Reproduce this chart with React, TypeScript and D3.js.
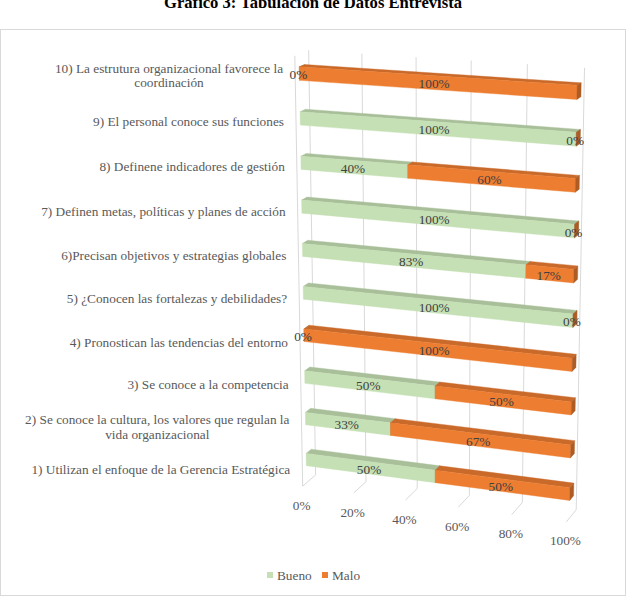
import React, { useEffect, useRef } from 'react';
import * as d3 from 'd3';

const title = 'Gráfico 3: Tabulación de Datos Entrevista';

// bottom to top, as the category axis runs
const categories = [
  '1) Utilizan el enfoque de la Gerencia Estratégica',
  '2) Se conoce la cultura, los valores que regulan la\nvida organizacional',
  '3) Se conoce a la competencia',
  '4) Pronostican las tendencias del entorno',
  '5) ¿Conocen las fortalezas y debilidades?',
  '6)Precisan objetivos y estrategias globales',
  '7) Definen metas, políticas y planes de acción',
  '8) Definene indicadores de gestión',
  '9) El personal conoce sus funciones',
  '10) La estrutura organizacional favorece la\ncoordinación',
];
const bueno = [50, 33, 50, 0, 100, 83, 100, 40, 100, 0];
const malo = [50, 67, 50, 100, 0, 17, 0, 60, 0, 100];
const seriesNames = ['Bueno', 'Malo'];
const seriesColors = ['#c5e0b4', '#ed7d31'];
const valueTicks = [0, 0.2, 0.4, 0.6, 0.8, 1];

const width = 627;
const height = 596;
const font = '"Liberation Serif", "Times New Roman", serif';
const fs = 13.3;

// 3D box in world units: X = value, Y = height, Z = depth (away from viewer)
const W = 1;
const H = 1.58;
const D = 0.12;
const rotX = (16 * Math.PI) / 180;
const rotY = (20 * Math.PI) / 180;
const dist = 7.6;
const focal = 2180;
const originX = 437.5;
const originY = 286;

type P3 = [number, number, number];

function project([X, Y, Z]: P3): [number, number] {
  const x = X - W / 2, y = Y - H / 2, z = Z - D / 2;
  const x1 = x * Math.cos(rotY) + z * Math.sin(rotY);
  const z1 = -x * Math.sin(rotY) + z * Math.cos(rotY);
  const y2 = y * Math.cos(rotX) + z1 * Math.sin(rotX);
  const z2 = -y * Math.sin(rotX) + z1 * Math.cos(rotX);
  const k = focal / (dist + z2);
  return [originX + x1 * k, originY - y2 * k];
}

const App: React.FC = () => {
  const svgRef = useRef<SVGSVGElement>(null);

  useEffect(() => {
    if (!svgRef.current) return;
    const svg = d3.select(svgRef.current);
    svg.selectAll('*').remove();

    const x = d3.scaleLinear().domain([0, 1]).range([0, W]);
    const y = d3.scaleBand<string>()
      .domain(categories)
      .range([0, H])
      .paddingInner(0.7)
      .paddingOuter(0.35)
      .align(0.6);
    const bw = y.bandwidth();
    const zFront = (D - bw) / 2;
    const zBack = zFront + bw;

    const poly = d3.line<P3>()
      .x(p => project(p)[0])
      .y(p => project(p)[1])
      .curve(d3.curveLinearClosed);

    // chart area border
    svg.append('rect')
      .attr('x', 0.5).attr('y', 29.5)
      .attr('width', 625).attr('height', 566)
      .attr('fill', '#fff').attr('stroke', '#d9d9d9');

    svg.append('text')
      .attr('x', 313).attr('y', 8)
      .attr('text-anchor', 'middle')
      .attr('font-family', font).attr('font-size', 16.6).attr('font-weight', 'bold')
      .text(title);

    const grid = svg.append('g').attr('stroke', '#d9d9d9').attr('fill', 'none');
    // back wall gridlines
    valueTicks.forEach(t => {
      grid.append('path').attr('d', d3.line()([project([x(t), 0, D]), project([x(t), H, D])]));
      // floor ticks
      grid.append('path').attr('d', d3.line()([project([x(t), 0, D]), project([x(t), 0, 0])]));
    });
    // front edge of the side wall
    grid.append('path').attr('d', d3.line()([project([0, 0, 0]), project([0, H, 0])]));

    // value axis labels
    svg.append('g')
      .selectAll('text')
      .data(valueTicks)
      .join('text')
      .attr('x', t => project([x(t), 0, 0])[0] - 1)
      .attr('y', t => project([x(t), 0, 0])[1] + 19)
      .attr('dy', '0.35em')
      .attr('text-anchor', 'middle')
      .attr('font-family', font).attr('font-size', fs).attr('fill', '#595959')
      .text(t => `${Math.round(t * 100)}%`);

    // stacked bars
    const bars = svg.append('g');
    const labels = svg.append('g')
      .attr('font-family', font).attr('font-size', fs).attr('fill', '#404040')
      .attr('text-anchor', 'middle');

    categories.forEach((c, i) => {
      const vals = [bueno[i], malo[i]];
      const total = d3.sum(vals);
      const y0 = y(c)!;
      const y1 = y0 + bw;
      let acc = 0;
      vals.forEach((v, s) => {
        const x0 = x(acc / total);
        acc += v;
        const x1 = x(acc / total);
        const base = d3.color(seriesColors[s])!;
        const top = base.darker(0.45).formatHex();
        const side = base.darker(0.85).formatHex();
        const g = bars.append('g');
        if (x1 > x0) {
          g.append('path')
            .attr('d', poly([[x0, y1, zFront], [x1, y1, zFront], [x1, y1, zBack], [x0, y1, zBack]]))
            .attr('fill', top).attr('stroke', top).attr('stroke-width', 0.4);
          g.append('path')
            .attr('d', poly([[x0, y0, zFront], [x1, y0, zFront], [x1, y1, zFront], [x0, y1, zFront]]))
            .attr('fill', seriesColors[s]).attr('stroke', seriesColors[s]).attr('stroke-width', 0.4);
        }
        g.append('path')
          .attr('d', poly([[x1, y0, zFront], [x1, y0, zBack], [x1, y1, zBack], [x1, y1, zFront]]))
          .attr('fill', side).attr('stroke', side).attr('stroke-width', 0.4);

        const p = project([(x0 + x1) / 2, (y0 + y1) / 2, zFront]);
        labels.append('text')
          .attr('x', p[0] - 1).attr('y', p[1] + 1)
          .attr('dy', '0.35em')
          .text(`${Math.round((v / total) * 100)}%`);
      });
    });

    // category labels, right aligned against the side wall
    const cats = svg.append('g')
      .attr('font-family', font).attr('font-size', fs).attr('fill', '#595959')
      .attr('text-anchor', 'middle');
    const labelShift = d3.scaleLinear().domain([0, categories.length - 1]).range([6, 0]);
    categories.forEach((c, i) => {
      const p = project([0, y(c)! + bw / 2, 0]);
      const right = p[0] - 12;
      const lines = c.split('\n');
      const lh = 14.5;
      const texts = lines.map((ln, j) =>
        cats.append('text')
          .attr('y', p[1] + labelShift(i) + (j - (lines.length - 1) / 2) * lh)
          .attr('dy', '0.35em')
          .text(ln)
      );
      const maxW = d3.max(texts, t => (t.node() as SVGTextElement).getComputedTextLength()) || 0;
      texts.forEach(t => t.attr('x', right - maxW / 2));
    });

    // legend
    const legend = svg.append('g')
      .attr('font-family', font).attr('font-size', fs).attr('fill', '#595959');
    const legendX = [267, 322];
    seriesNames.forEach((n, s) => {
      legend.append('rect')
        .attr('x', legendX[s]).attr('y', 572)
        .attr('width', 6).attr('height', 6)
        .attr('fill', seriesColors[s]);
      legend.append('text')
        .attr('x', legendX[s] + 10).attr('y', 575)
        .attr('dy', '0.35em')
        .text(n);
    });
  }, []);

  return (
    <svg
      ref={svgRef}
      width={width}
      height={height}
      style={{ position: 'absolute', left: 0, top: 0, background: '#fff' }}
    />
  );
};

export default App;
